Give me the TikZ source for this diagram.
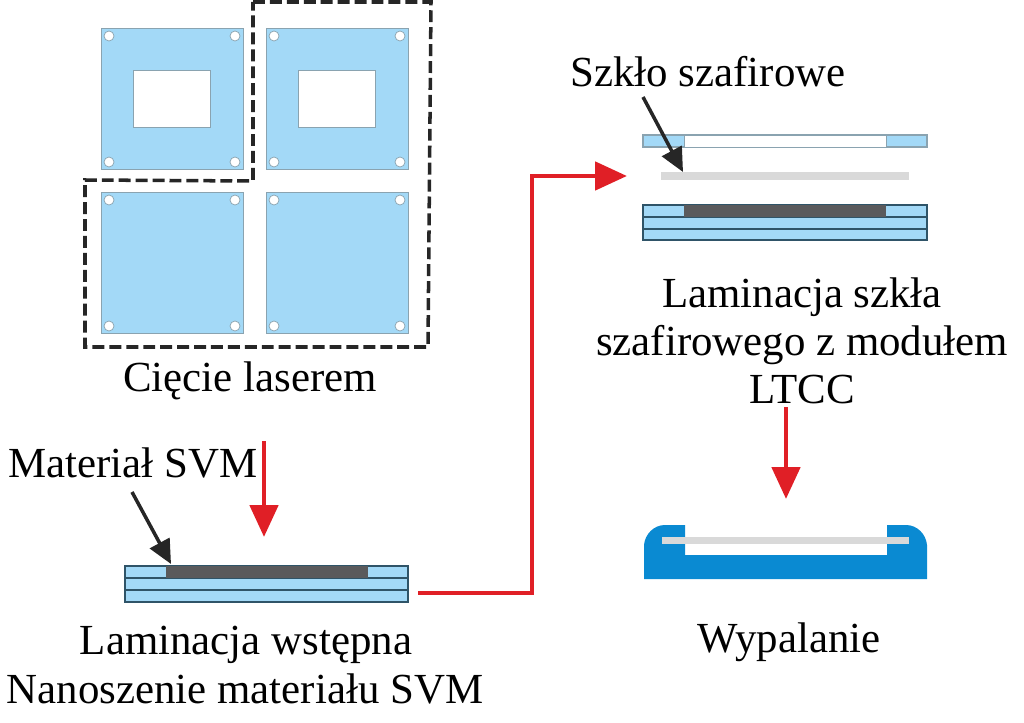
\documentclass[tikz,border=0pt]{standalone}
\usepackage{fontspec}
\setmainfont{Liberation Serif}
\usetikzlibrary{arrows.meta}
\definecolor{svmblue}{HTML}{A3D9F7}
\definecolor{fireblue}{HTML}{0A8AD2}
\definecolor{svmdark}{HTML}{5A5A5C}
\definecolor{glassgray}{HTML}{D9D9D9}
\definecolor{edgegray}{HTML}{8AA3B0}
\definecolor{edgedark}{HTML}{2F5468}
\definecolor{flowred}{HTML}{E01F26}
\tikzset{
  caption/.style={font=\fontsize{24.4pt}{27.2pt}\selectfont,inner sep=0pt,align=center},
  flow/.style={draw=flowred,line width=2.8pt,-{Triangle[length=32\pxu,width=28\pxu]}},
  pointer/.style={draw=black!85,line width=2pt,-{Triangle[length=24\pxu,width=22\pxu]}},
  tile/.style={fill=svmblue,draw=edgegray,line width=0.4pt},
  layer/.style={fill=svmblue,draw=edgedark,line width=0.6pt},
}
\newcommand{\pxu}{*0.5669pt}
\begin{document}
\begin{tikzpicture}[x=0.02cm,y=-0.02cm]
  \useasboundingbox (0,0) rectangle (1024,723);
  % Laser cut tiles
  \foreach \tx/\ty in {101/28,266/28,101/192,266/192} {
    \draw[tile] (\tx,\ty) rectangle ++(142,141);
    \foreach \hx/\hy in {8/8,134/8,8/134,134/134}
      \draw[fill=white,draw=edgegray,line width=0.4pt] (\tx+\hx,\ty+\hy) circle (5);
  }
  \foreach \tx in {133,298}
    \draw[fill=white,draw=edgegray,line width=0.5pt] (\tx,70) rectangle ++(77,57);
  % Dashed outline of the cut
  \draw[black!85,line width=2pt,dash pattern=on 12\pxu off 5\pxu]
    (253,2) -- (431,2) -- (428,347) -- (85,347) -- (85,180) -- (253,181) -- cycle;
  \node[caption] (cut) at (250,381) {Cięcie laserem};

  % Pre-lamination stack
  \draw[layer] (125,566) rectangle (408,578);
  \draw[layer] (125,578) rectangle (408,590);
  \draw[layer] (125,590) rectangle (408,602);
  \fill[svmdark] (166,566) rectangle (368,578);
  \node[caption] (svm) at (133,463) {Materiał SVM};
  \node[caption] (prelam) at (246,645) {Laminacja wstępna};
  \node[caption] (apply) at (245,689) {Nanoszenie materiału SVM};
  \coordinate (svmstart) at (132,492);
  \coordinate (svmtip) at (171,564);
  \draw[pointer] (svmstart) -- (svmtip);

  % Sapphire glass above the LTCC module
  \draw[layer,draw=edgegray] (643,135) rectangle (927,147);
  \draw[fill=white,draw=edgegray,line width=0.5pt] (684,135) rectangle (886,147);
  \fill[glassgray] (661,172) rectangle (909,180);
  \draw[layer] (643,205) rectangle (927,217);
  \draw[layer] (643,217) rectangle (927,229);
  \draw[layer] (643,229) rectangle (927,240);
  \fill[svmdark] (684,205) rectangle (886,217);
  \node[caption] (glass) at (708,72) {Szkło szafirowe};
  \node[caption] (lam) at (802,341) {Laminacja szkła\\szafirowego z modułem\\LTCC};
  \coordinate (glassstart) at (643,97);
  \coordinate (glasstip) at (683,172);
  \draw[pointer] (glassstart) -- (glasstip);

  % Fired module
  \fill[fireblue] (644,579) -- (644,545) .. controls (645,534) and (654,525) .. (665,525)
    -- (685,525) -- (685,555) -- (887,555) -- (887,525) -- (906,525)
    .. controls (917,525) and (926,534) .. (927,545) -- (927,579) -- cycle;
  \fill[glassgray] (662,537) rectangle (909,544);
  \node[caption] (fired) at (789,642) {Wypalanie};

  % Process flow
  \coordinate (a1) at (264,441);
  \coordinate (a2) at (264,537);
  \draw[flow] (a1) -- (a2);
  \coordinate (b1) at (418,593);
  \coordinate (b2) at (532,176);
  \coordinate (b3) at (627,176);
  \draw[flow] (b1) -| (b2) -- (b3);
  \coordinate (c1) at (786,407);
  \coordinate (c2) at (786,499);
  \draw[flow] (c1) -- (c2);
\end{tikzpicture}
\end{document}
